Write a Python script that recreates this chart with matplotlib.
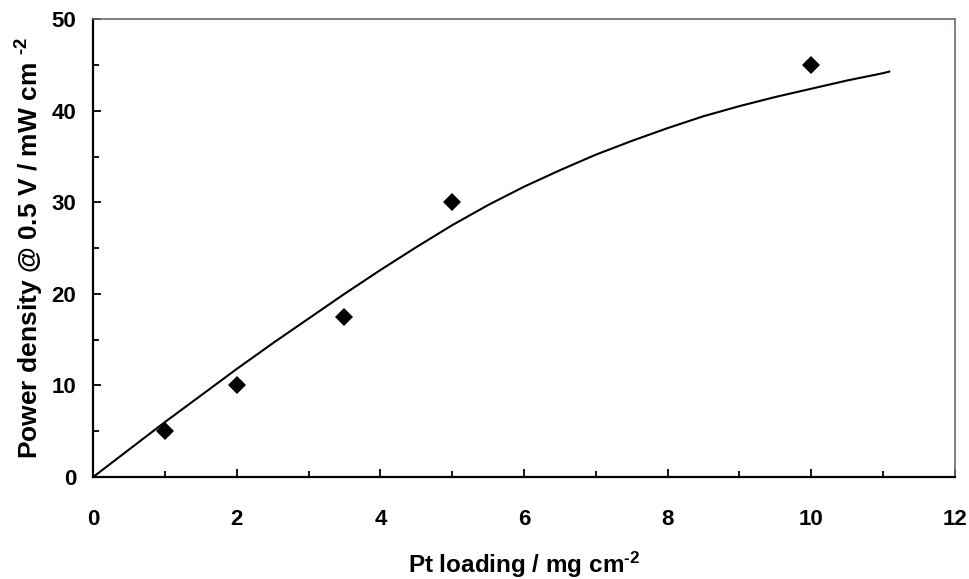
import matplotlib
matplotlib.use("Agg")
import matplotlib.pyplot as plt
from matplotlib.ticker import MultipleLocator

plt.rcParams["font.family"] = "Liberation Sans"
plt.rcParams["font.weight"] = "bold"
plt.rcParams["mathtext.fontset"] = "custom"
plt.rcParams["mathtext.rm"] = "Liberation Sans:bold"
plt.rcParams["mathtext.it"] = "Liberation Sans:bold"
plt.rcParams["mathtext.bf"] = "Liberation Sans:bold"

# Measured power density vs Pt loading
pt_loading = [1, 2, 3.5, 5, 10]
power_density = [5.0, 10.0, 17.5, 30.0, 45.0]

# Fitted trend curve
fit_x = [0, 0.5, 1, 1.5, 2, 2.5, 3, 3.5, 4, 4.5, 5, 5.5, 6, 6.5, 7, 7.5,
         8, 8.5, 9, 9.5, 10, 10.5, 11, 11.1]
fit_y = [0, 3.0, 6.0, 8.9, 11.8, 14.6, 17.3, 20.0, 22.6, 25.1, 27.5, 29.7,
         31.7, 33.5, 35.2, 36.7, 38.1, 39.4, 40.5, 41.5, 42.4, 43.3, 44.1, 44.3]

fig = plt.figure(figsize=(9.69, 5.79), dpi=100)
ax = fig.add_axes([0.096, 0.176, 0.8895, 0.791])

ax.plot(fit_x, fit_y, color="black", lw=1.5, solid_capstyle="butt")
ax.plot(pt_loading, power_density, "D", color="black", ms=9, mew=0,
        clip_on=False)

ax.set_xlim(0, 12)
ax.set_ylim(0, 50)
ax.xaxis.set_major_locator(MultipleLocator(2))
ax.xaxis.set_minor_locator(MultipleLocator(1))
ax.yaxis.set_major_locator(MultipleLocator(10))
ax.yaxis.set_minor_locator(MultipleLocator(5))

ax.tick_params(which="both", direction="in", width=1.3, colors="black",
               top=False, right=False, labelsize=16)
ax.tick_params(which="major", length=5.5)
ax.tick_params(which="minor", length=4)
ax.tick_params(axis="x", which="major", pad=23)
ax.tick_params(axis="y", which="major", pad=12)
for lbl in ax.get_xticklabels() + ax.get_yticklabels():
    lbl.set_fontweight("bold")

for side in ("left", "bottom"):
    ax.spines[side].set_linewidth(1.6)
    ax.spines[side].set_color("black")
for side in ("top", "right"):
    ax.spines[side].set_linewidth(1.2)
    ax.spines[side].set_color("#6a6a7a")

ax.set_xlabel(r"Pt loading / mg cm$^{\text{-}2}$", fontsize=17.5,
              fontweight="bold", labelpad=14)
ax.set_ylabel(r"Power density @ 0.5 V / mW cm $^{\text{-}2}$", fontsize=19,
              fontweight="bold", labelpad=4)

fig.savefig("out.png", dpi=100)
